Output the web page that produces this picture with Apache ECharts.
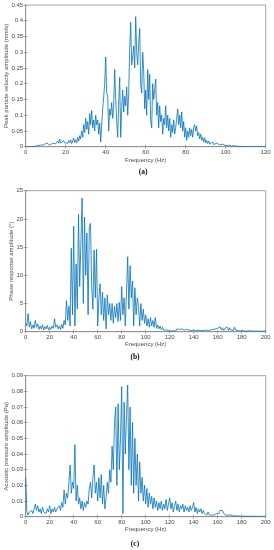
<!DOCTYPE html>
<html>
<head>
<meta charset="utf-8">
<script src="https://cdn.jsdelivr.net/npm/echarts@6/dist/echarts.min.js"></script>
<style>html,body{margin:0;padding:0;background:#fff}#c{width:274px;height:550px}</style>
</head>
<body>
<div id="c"></div>
<script>
// Panel (a): frequency step 0.5 Hz from 0 Hz
const STEP_A = 0.5;
const velA = [
0,0,0,0,0,0,0,0.0005,0.001,0.001,
0.002,0.003,0.004,0.002,0.003,0.005,0.003,0.004,0.006,0.004,
0.008,0.012,0.007,0.01,0.005,0.008,0.006,0.011,0.008,0.014,
0.009,0.012,0.018,0.011,0.024,0.012,0.016,0.01,0.019,0.012,
0.009,0.016,0.011,0.02,0.013,0.022,0.01,0.018,0.028,0.014,
0.022,0.012,0.03,0.018,0.035,0.025,0.05,0.03,0.07,0.045,
0.09,0.055,0.08,0.04,0.105,0.07,0.115,0.06,0.085,0.05,
0.1,0.07,0.085,0.04,0.075,0.015,0.07,0.12,0.16,0.2,
0.285,0.17,0.16,0.05,0.12,0.1,0.14,0.09,0.13,0.245,
0.15,0.08,0.03,0.14,0.22,0.03,0.12,0.18,0.11,0.16,
0.13,0.19,0.1,0.17,0.31,0.395,0.26,0.285,0.32,0.25,
0.413,0.3,0.26,0.33,0.375,0.2,0.17,0.3,0.24,0.12,
0.18,0.1,0.245,0.15,0.23,0.08,0.06,0.2,0.15,0.18,
0.215,0.1,0.14,0.06,0.13,0.08,0.1,0.04,0.09,0.07,
0.13,0.06,0.1,0.05,0.09,0.03,0.07,0.045,0.085,0.04,
0.06,0.09,0.12,0.07,0.1,0.06,0.11,0.05,0.08,0.03,
0.06,0.02,0.05,0.03,0.06,0.035,0.055,0.03,0.06,0.07,
0.05,0.065,0.035,0.045,0.025,0.04,0.02,0.03,0.015,0.028,
0.012,0.02,0.01,0.018,0.008,0.014,0.009,0.015,0.007,0.012,
0.006,0.011,0.005,0.01,0.006,0.009,0.004,0.008,0.004,0.007,
0.003,0.006,0.003,0.005,0.002,0.004,0.002,0.003,0.002,0.003,
0.001,0.002,0.001,0.002,0.001,0.001,0.0005,0.001,0.0005,0.0005,
0,0,0,0,0,0,0,0,0,0,
0,0,0,0,0,0,0,0,0,0,
0
];
// Panel (b): frequency step 1 Hz from 0 Hz
const STEP_B = 1;
const phaseB = [
1.5,1.0,3.2,0.8,1.8,0.5,1.2,0.6,2.0,0.8,
1.4,0.4,1.0,0.5,1.2,0.3,0.9,0.5,1.1,0.3,
0.8,0.4,1.0,0.6,2.3,0.8,1.2,0.5,1.0,0.4,
1.3,0.6,2.0,1.2,5.5,2.0,4.5,1.0,14.8,3.0,
18.7,1.0,12.0,4.0,20.8,8.0,15.5,23.7,5.0,20.3,
10.0,17.5,3.0,18.5,19.2,8.0,4.0,14.5,6.0,14.6,
1.0,6.0,8.5,3.0,7.0,2.0,6.0,0.5,6.5,3.0,
5.0,2.0,5.0,1.5,4.5,2.5,5.0,1.8,5.2,2.0,
8.0,3.0,6.0,1.0,7.0,13.3,4.0,11.7,6.0,9.0,
1.0,7.8,3.0,6.0,4.5,1.0,5.0,2.0,4.0,1.5,
3.0,1.0,2.3,0.8,2.5,1.0,2.0,0.8,2.5,0.6,
1.2,0.5,1.0,0.4,0.8,0.3,0.6,0.3,0.5,0.2,
0.4,0.1,0.3,0.2,0.4,0.1,0.5,0.2,0.4,0.1,
0.5,0.2,0.3,0.1,0.4,0.1,0.3,0.1,0.2,0.1,
0.3,0.05,0.2,0.1,0.25,0.05,0.2,0.1,0.2,0.05,
0.3,0.1,0.2,0.1,0.3,0.1,0.4,0.2,0.5,0.2,
0.6,0.3,0.9,0.3,0.7,0.2,0.6,0.3,0.8,0.2,
0.7,0.3,0.6,0.2,0.8,0.3,0.6,0.2,0.5,0.1,
0.4,0.2,0.4,0.1,0.3,0.1,0.4,0.2,0.3,0.1,
0.3,0.1,0.4,0.1,0.3,0.1,0.3,0.1,0.2,0.1,
0.2
];
// Panel (c): frequency step 1 Hz from 0 Hz
const STEP_C = 1;
const pressC = [
0.025,0.003,0.001,0.003,0.002,0.004,0.002,0.005,0.008,0.004,
0.007,0.003,0.005,0.002,0.006,0.003,0.004,0.002,0.005,0.003,
0.007,0.002,0.005,0.003,0.006,0.003,0.005,0.004,0.007,0.004,
0.009,0.006,0.017,0.008,0.015,0.012,0.022,0.033,0.015,0.022,
0.018,0.046,0.01,0.02,0.008,0.012,0.005,0.01,0.004,0.009,
0.006,0.01,0.008,0.018,0.022,0.012,0.025,0.033,0.015,0.022,
0.01,0.025,0.012,0.027,0.008,0.02,0.005,0.012,0.022,0.015,
0.03,0.022,0.045,0.03,0.06,0.07,0.02,0.072,0.03,0.05,
0.083,0.002,0.073,0.04,0.065,0.084,0.03,0.07,0.02,0.06,
0.015,0.05,0.02,0.04,0.01,0.035,0.015,0.025,0.01,0.02,
0.008,0.018,0.006,0.015,0.008,0.013,0.005,0.012,0.006,0.01,
0.004,0.009,0.005,0.01,0.004,0.008,0.005,0.011,0.004,0.008,
0.012,0.005,0.009,0.003,0.007,0.01,0.004,0.008,0.003,0.007,
0.005,0.008,0.003,0.007,0.004,0.006,0.003,0.007,0.004,0.006,
0.009,0.003,0.006,0.002,0.005,0.003,0.005,0.002,0.004,0.002,
0.003,0.001,0.003,0.001,0.002,0.001,0.002,0.001,0.002,0.002,
0.003,0.002,0.004,0.003,0.004,0.002,0.003,0.001,0.002,0.001,
0.002,0.001,0.0015,0.0005,0.001,0.0005,0.001,0.0005,0.001,0.0003,
0.0008,0.0003,0.0008,0.0003,0.0007,0.0003,0.0008,0.0002,0.0006,0.0003,
0.0007,0.0002,0.0006,0.0003,0.0005,0.0002,0.0006,0.0002,0.0005,0.0002,
0.0004
];

const yTitles = ['Peak particle velocity amplitude (mm/s)', 'Phase response amplitude (°)', 'Acoustic pressure amplitude (Pa)'];
const xTitle = 'Frequency (Hz)';
const panelLabels = ['(a)', '(b)', '(c)'];
const xMax = [120, 200, 200];
const xInterval = [20, 20, 20];
const yMax = [0.45, 25, 0.09];
const yInterval = [0.05, 5, 0.01];

const panels = [
  {vals: velA, step: STEP_A},
  {vals: phaseB, step: STEP_B},
  {vals: pressC, step: STEP_C}
];

const layout = [
  {top: 5, height: 141.7, yGap: 16, xGap: 11, labelY: 173.3, labelX: 143},
  {top: 190.7, height: 141, yGap: 11, xGap: 10, labelY: 358.3, labelX: 135},
  {top: 375.7, height: 141, yGap: 16, xGap: 10, labelY: 545.3, labelX: 135}
];

const FONT = 'Liberation Sans';
const axisCol = '#8a8a8a';
const txtCol = '#4a4a4a';

const grid = [], xAxis = [], yAxis = [], series = [], title = [];
layout.forEach((L, i) => {
  grid.push({left: 25.7, right: 8.3, top: L.top, height: L.height, show: true, borderColor: axisCol, borderWidth: 0.8, containLabel: false, outerBoundsMode: 'none'});
  const tick = {show: true, inside: true, length: 2, lineStyle: {color: axisCol, width: 0.7}};
  xAxis.push({
    type: 'value', gridIndex: i, min: 0, max: xMax[i], interval: xInterval[i], position: 'bottom',
    axisLine: {show: true, lineStyle: {color: axisCol, width: 0.8}}, axisTick: tick,
    splitLine: {show: false},
    axisLabel: {fontSize: 6, color: txtCol, margin: 2.5, fontFamily: FONT},
    name: xTitle, nameLocation: 'middle', nameGap: L.xGap, nameMoveOverlap: false,
    nameTextStyle: {fontSize: 6, color: txtCol, fontFamily: FONT}
  });
  xAxis.push({
    type: 'value', gridIndex: i, min: 0, max: xMax[i], interval: xInterval[i], position: 'top',
    axisLine: {show: false}, axisTick: tick, axisLabel: {show: false}, splitLine: {show: false}
  });
  yAxis.push({
    type: 'value', gridIndex: i, min: 0, max: yMax[i], interval: yInterval[i], position: 'left',
    axisLine: {show: true, lineStyle: {color: axisCol, width: 0.8}}, axisTick: tick,
    splitLine: {show: false},
    axisLabel: {fontSize: 6, color: txtCol, margin: 2.5, fontFamily: FONT},
    name: yTitles[i], nameLocation: 'middle', nameGap: L.yGap, nameRotate: 90, nameMoveOverlap: false,
    nameTextStyle: {fontSize: 6, color: txtCol, fontFamily: FONT}
  });
  yAxis.push({
    type: 'value', gridIndex: i, min: 0, max: yMax[i], interval: yInterval[i], position: 'right',
    axisLine: {show: false}, axisTick: tick, axisLabel: {show: false}, splitLine: {show: false}
  });
  series.push({
    type: 'line', xAxisIndex: i * 2, yAxisIndex: i * 2, showSymbol: false, symbol: 'none',
    lineStyle: {color: '#0072BD', width: 0.8}, silent: true,
    data: panels[i].vals.map((v, k) => [k * panels[i].step, v])
  });
  title.push({
    text: panelLabels[i], left: L.labelX, top: L.labelY - 5, textAlign: 'center', padding: 0,
    textStyle: {fontSize: 7.5, fontWeight: 'bold', color: '#111', fontFamily: 'Liberation Serif'}
  });
});

const chart = echarts.init(document.getElementById('c'), null, {renderer: 'canvas'});
chart.setOption({animation: false, backgroundColor: '#fff', title, grid, xAxis, yAxis, series});
</script>
</body>
</html>
